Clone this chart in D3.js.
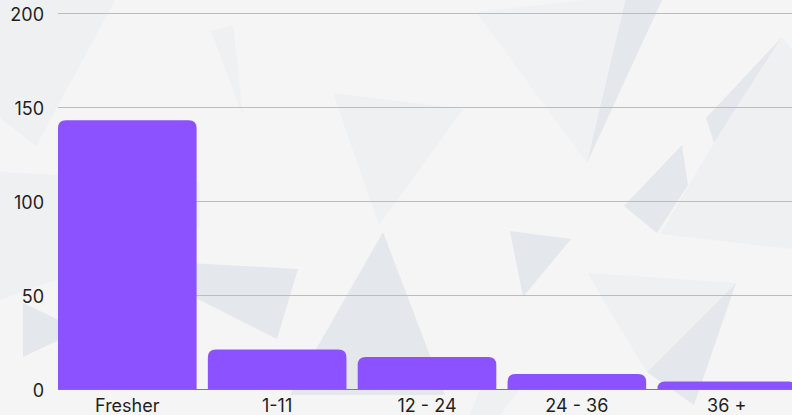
<!DOCTYPE html>
<html>
<head>
<meta charset="utf-8">
<script src="https://cdn.jsdelivr.net/npm/d3@7"></script>
<style>
  html, body { margin: 0; padding: 0; background: #f5f5f5; }
  svg { display: block; font-family: Inter, "Noto Sans", sans-serif; }
</style>
</head>
<body>
<div id="chart_area"></div>
<script>
// data
var categories = ["Fresher", "1-11", "12 - 24", "24 - 36", "36 +"];
var counts = [143, 21, 17, 8, 4];
var yTicks = [0, 50, 100, 150, 200];

var width = 792, height = 415;
var margin = { top: 13, right: -10, bottom: 26, left: 52 };

var svg = d3.select("#chart_area")
    .append("svg")
    .attr("width", width)
    .attr("height", height);

svg.append("rect")
    .attr("width", width)
    .attr("height", height)
    .attr("fill", "#f5f5f5");

// decorative background shards
var shards = [
    { c: "#eff0f2", p: [[0, 0], [115, 0], [36, 146], [0, 118]] },
    { c: "#eff0f2", p: [[0, 172], [200, 182], [200, 228], [0, 300]] },
    { c: "#eef0f2", p: [[211, 31], [233, 25], [243, 116]] },
    { c: "#eef0f2", p: [[333, 93], [463, 109], [379, 225]] },
    { c: "#eff1f3", p: [[476, 12], [640, -6], [587, 163]] },
    { c: "#e4e8ec", p: [[626, -2], [663, -2], [587, 163]] },
    { c: "#e4e8ec", p: [[782, 37], [706, 118], [714, 143]] },
    { c: "#eff0f2", p: [[782, 37], [800, 60], [800, 250], [660, 234], [714, 143]] },
    { c: "#e4e8ec", p: [[624, 206], [682, 145], [688, 185], [657, 233]] },
    { c: "#e4e8ec", p: [[170, 262], [298, 269], [277, 339], [170, 285]] },
    { c: "#e4e8ec", p: [[383, 232], [290, 395], [445, 395]] },
    { c: "#e4e8ec", p: [[510, 231], [571, 239], [523, 297]] },
    { c: "#eff0f2", p: [[588, 273], [736, 283], [622, 331], [605, 303]] },
    { c: "#eff0f2", p: [[622, 331], [736, 283], [647, 372]] },
    { c: "#e4e8ec", p: [[736, 283], [647, 372], [694, 405]] },
    { c: "#e4e8ec", p: [[23, 303], [80, 330], [23, 357]] },
    { c: "#eff0f2", p: [[480, 389], [520, 389], [500, 415], [470, 415]] }
];

svg.append("g")
    .selectAll("polygon")
    .data(shards)
    .enter()
    .append("polygon")
    .attr("points", function (d) { return d.p.map(function (q) { return q.join(","); }).join(" "); })
    .attr("fill", function (d) { return d.c; });

var x = d3.scaleBand()
    .domain(categories)
    .range([margin.left, width - margin.right])
    .paddingInner(0.075)
    .paddingOuter(0.04);

var y = d3.scaleLinear()
    .domain([0, 200])
    .range([height - margin.bottom, margin.top]);

// gridlines
svg.append("g")
    .selectAll("line")
    .data(yTicks.filter(function (d) { return d > 0; }))
    .enter()
    .append("line")
    .attr("x1", x(categories[0]))
    .attr("x2", width)
    .attr("y1", function (d) { return Math.round(y(d)) + 0.5; })
    .attr("y2", function (d) { return Math.round(y(d)) + 0.5; })
    .attr("stroke", "#bcbcbc")
    .attr("stroke-width", 1);

// baseline
svg.append("line")
    .attr("x1", x(categories[0]))
    .attr("x2", width)
    .attr("y1", y(0) + 0.5)
    .attr("y2", y(0) + 0.5)
    .attr("stroke", "#7d7d7d")
    .attr("stroke-width", 1);

// y labels
svg.append("g")
    .selectAll("text")
    .data(yTicks)
    .enter()
    .append("text")
    .attr("x", 44)
    .attr("y", function (d) { return y(d) + 7.5; })
    .attr("text-anchor", "end")
    .attr("font-size", 18)
    .attr("fill", "#1f1f1f")
    .text(function (d) { return d; });

// bars with rounded top corners
var r = 8;
function barPath(x0, y0, w, h) {
    var rr = Math.min(r, h, w / 2);
    return "M" + x0 + "," + (y0 + h) +
        "V" + (y0 + rr) +
        "Q" + x0 + "," + y0 + " " + (x0 + rr) + "," + y0 +
        "H" + (x0 + w - rr) +
        "Q" + (x0 + w) + "," + y0 + " " + (x0 + w) + "," + (y0 + rr) +
        "V" + (y0 + h) + "Z";
}

svg.append("g")
    .selectAll("path")
    .data(categories)
    .enter()
    .append("path")
    .attr("d", function (d, i) {
        var top = y(counts[i]);
        return barPath(x(d), top, x.bandwidth(), y(0) - top);
    })
    .attr("fill", "#8c52ff");

// x labels
svg.append("g")
    .selectAll("text")
    .data(categories)
    .enter()
    .append("text")
    .attr("x", function (d) { return x(d) + x.bandwidth() / 2; })
    .attr("y", 412)
    .attr("text-anchor", "middle")
    .attr("font-size", 18)
    .attr("fill", "#1f1f1f")
    .text(function (d) { return d; });
</script>
</body>
</html>
